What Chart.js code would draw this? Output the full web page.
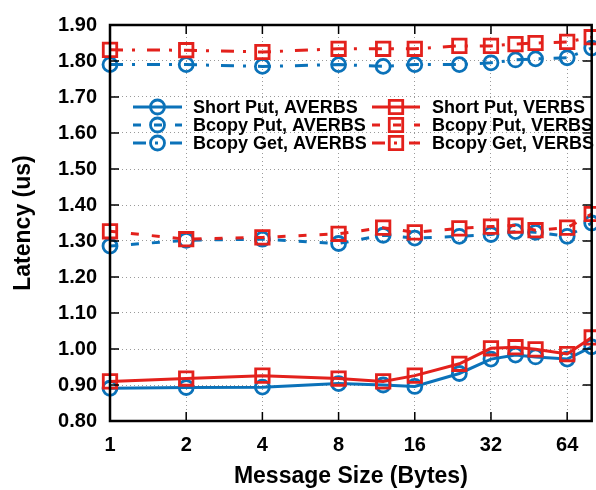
<!DOCTYPE html>
<html>
<head>
<meta charset="utf-8">
<script src="https://cdn.jsdelivr.net/npm/chart.js@4.4.1/dist/chart.umd.min.js"></script>
<style>
  html, body { margin: 0; padding: 0; background: #fff; overflow: hidden; }
  canvas { display: block; }
</style>
</head>
<body>
<canvas id="latencyChart" width="604" height="490"></canvas>
<script>
// message sizes (bytes) and measured latencies (us)
const sizes = [1, 2, 4, 8, 12, 16, 24, 32, 40, 48, 64, 80];
const shortPutAverbs = [0.891, 0.893, 0.894, 0.904, 0.900, 0.896, 0.932, 0.972, 0.983, 0.978, 0.972, 1.006];
const bcopyPutAverbs = [1.286, 1.302, 1.305, 1.293, 1.316, 1.308, 1.313, 1.318, 1.326, 1.324, 1.313, 1.350];
const bcopyGetAverbs = [1.790, 1.790, 1.785, 1.790, 1.785, 1.790, 1.790, 1.795, 1.803, 1.806, 1.809, 1.836];
const shortPutVerbs = [0.910, 0.918, 0.926, 0.918, 0.910, 0.926, 0.959, 1.002, 1.005, 0.999, 0.986, 1.032];
const bcopyPutVerbs = [1.327, 1.305, 1.310, 1.320, 1.337, 1.324, 1.335, 1.340, 1.343, 1.330, 1.337, 1.375];
const bcopyGetVerbs = [1.831, 1.830, 1.825, 1.834, 1.834, 1.834, 1.842, 1.842, 1.847, 1.850, 1.853, 1.866];

const xTicks = [1, 2, 4, 8, 16, 32, 64];
const yTicks = [0.8, 0.9, 1.0, 1.1, 1.2, 1.3, 1.4, 1.5, 1.6, 1.7, 1.8, 1.9];

const BLUE = '#0b72b9';
const RED = '#e3211c';
const FONT = "'Liberation Sans', Arial, Helvetica, sans-serif";

const DASH_PUT = [8, 13];
const DASH_GET = [13, 9, 3, 12];

function makeSet(label, values, color, dash, style, col, row) {
    return {
        label: label,
        data: sizes.map((s, i) => ({ x: s, y: values[i] })),
        borderColor: color,
        backgroundColor: 'rgba(0,0,0,0)',
        borderWidth: 3,
        borderDash: dash,
        pointStyle: style,
        pointRadius: style === 'rect' ? 9.5 : 7,
        pointBorderWidth: 2.8,
        pointBorderColor: color,
        pointBackgroundColor: 'rgba(0,0,0,0)',
        order: color === RED ? 0 : 1,
        tension: 0,
        clip: false,
        legendCol: col,
        legendRow: row
    };
}

// gnuplot-style frame with inward ticks
const framePlugin = {
    id: 'frame',
    afterDatasetsDraw(chart) {
        const { ctx, chartArea: a, scales } = chart;
        ctx.save();
        ctx.strokeStyle = '#000';
        ctx.lineWidth = 1.5;
        ctx.setLineDash([]);
        ctx.beginPath();
        xTicks.forEach(v => {
            const x = scales.x.getPixelForValue(v);
            ctx.moveTo(x, a.bottom); ctx.lineTo(x, a.bottom - 9);
            ctx.moveTo(x, a.top); ctx.lineTo(x, a.top + 9);
        });
        yTicks.forEach(v => {
            const y = scales.y.getPixelForValue(v);
            ctx.moveTo(a.left, y); ctx.lineTo(a.left + 9, y);
            ctx.moveTo(a.right, y); ctx.lineTo(a.right - 9, y);
        });
        ctx.stroke();
        ctx.lineWidth = 2.5;
        ctx.strokeRect(a.left, a.top, a.right - a.left, a.bottom - a.top);
        ctx.restore();
    }
};

// two-column key inside the plot
const keyPlugin = {
    id: 'key',
    afterDatasetsDraw(chart) {
        const ctx = chart.ctx;
        const cols = [{ x0: 133, x1: 182, tx: 193 }, { x0: 372, x1: 420, tx: 432 }];
        const rows = [107, 125, 143];
        ctx.save();
        chart.data.datasets.forEach(ds => {
            const c = cols[ds.legendCol];
            const y = rows[ds.legendRow];
            const mx = (c.x0 + c.x1) / 2;
            ctx.strokeStyle = ds.borderColor;
            ctx.lineWidth = 3;
            ctx.setLineDash(ds.borderDash || []);
            ctx.beginPath();
            ctx.moveTo(c.x0, y);
            ctx.lineTo(c.x1, y);
            ctx.stroke();
            ctx.setLineDash([]);
            ctx.lineWidth = ds.pointBorderWidth;
            ctx.beginPath();
            if (ds.pointStyle === 'rect') {
                const h = ds.pointRadius * Math.SQRT1_2;
                ctx.rect(mx - h, y - h, 2 * h, 2 * h);
            } else {
                ctx.arc(mx, y, ds.pointRadius, 0, Math.PI * 2);
            }
            ctx.stroke();
            ctx.fillStyle = '#000';
            ctx.font = 'bold 18px ' + FONT;
            ctx.textAlign = 'left';
            ctx.textBaseline = 'middle';
            ctx.fillText(ds.label, c.tx, y + 1);
        });
        ctx.restore();
    }
};

const ctx = document.getElementById('latencyChart').getContext('2d');
new Chart(ctx, {
    type: 'line',
    data: {
        datasets: [
            makeSet('Short Put, AVERBS', shortPutAverbs, BLUE, [], 'circle', 0, 0),
            makeSet('Bcopy Put, AVERBS', bcopyPutAverbs, BLUE, DASH_PUT, 'circle', 0, 1),
            makeSet('Bcopy Get, AVERBS', bcopyGetAverbs, BLUE, DASH_GET, 'circle', 0, 2),
            makeSet('Short Put, VERBS', shortPutVerbs, RED, [], 'rect', 1, 0),
            makeSet('Bcopy Put, VERBS', bcopyPutVerbs, RED, DASH_PUT, 'rect', 1, 1),
            makeSet('Bcopy Get, VERBS', bcopyGetVerbs, RED, DASH_GET, 'rect', 1, 2)
        ]
    },
    options: {
        responsive: false,
        animation: false,
        devicePixelRatio: 1,
        layout: { padding: { top: 18, right: 4, left: 0, bottom: 0 } },
        plugins: {
            legend: { display: false },
            tooltip: { enabled: false }
        },
        scales: {
            x: {
                type: 'logarithmic',
                min: 1,
                max: 80,
                afterBuildTicks: scale => { scale.ticks = xTicks.map(v => ({ value: v })); },
                afterFit: scale => { scale.height = 69; },
                ticks: {
                    callback: v => String(v),
                    autoSkip: false,
                    maxRotation: 0,
                    color: '#000',
                    padding: 12,
                    font: { family: FONT, size: 20, weight: 'bold' }
                },
                grid: { color: '#9a9a9a', lineWidth: 1, drawTicks: false },
                border: { display: false, dash: [1, 3] },
                title: {
                    display: true,
                    text: 'Message Size (Bytes)',
                    color: '#000',
                    padding: { top: 0, bottom: 0 },
                    font: { family: FONT, size: 23, weight: 'bold' }
                }
            },
            y: {
                min: 0.8,
                max: 1.9,
                afterBuildTicks: scale => { scale.ticks = yTicks.map(v => ({ value: v })); },
                afterFit: scale => { scale.width = 110; },
                ticks: {
                    callback: v => v.toFixed(2),
                    color: '#000',
                    padding: 13,
                    font: { family: FONT, size: 20, weight: 'bold' }
                },
                grid: { color: '#9a9a9a', lineWidth: 1, drawTicks: false },
                border: { display: false, dash: [1, 3] },
                title: {
                    display: true,
                    text: 'Latency (us)',
                    color: '#000',
                    padding: { top: 10, bottom: 0 },
                    font: { family: FONT, size: 23, weight: 'bold' }
                }
            }
        }
    },
    plugins: [framePlugin, keyPlugin]
});
</script>
</body>
</html>
